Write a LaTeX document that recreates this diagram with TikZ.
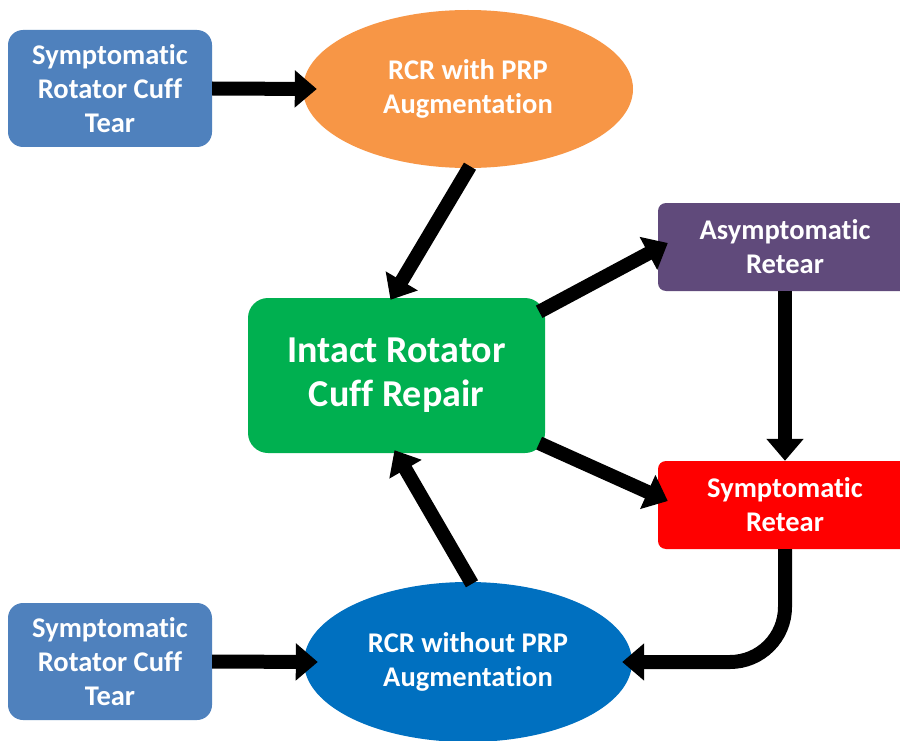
\documentclass[tikz,border=0pt]{standalone}
\usepackage{fontspec}
\setmainfont{Carlito}[Ligatures=NoCommon]
\usetikzlibrary{shapes.geometric,arrows.meta}
\definecolor{cBlueL}{HTML}{4F81BD}
\definecolor{cOrange}{HTML}{F79646}
\definecolor{cGreen}{HTML}{00B050}
\definecolor{cPurple}{HTML}{604A7B}
\definecolor{cRed}{HTML}{FF0000}
\definecolor{cBlue}{HTML}{0070C0}
\tikzset{
  box/.style={rectangle, rounded corners=15pt, inner sep=0pt, align=center, text=white,
    font=\fontsize{28.5}{34}\selectfont\bfseries},
  oval/.style={ellipse, inner sep=0pt, align=center, text=white,
    font=\fontsize{28.5}{34}\selectfont\bfseries},
  arr/.style={line width=14pt, -{Triangle[length=22pt,width=36pt]}}
}
\begin{document}
\begin{tikzpicture}[x=1pt,y=-1pt]
\useasboundingbox[fill=white] (0,0) rectangle (900,741);
\node[box, fill=cBlueL, minimum width=204pt, minimum height=117pt] (tl) at (110,88.5) {Symptomatic\\Rotator Cuff\\Tear};
\node[box, fill=cBlueL, minimum width=204pt, minimum height=117pt] (bl) at (110,661.5) {Symptomatic\\Rotator Cuff\\Tear};
\node[oval, fill=cOrange, minimum width=330pt, minimum height=158pt] (eo) at (468,89) {RCR with PRP\\Augmentation};
\node[oval, fill=cBlue, minimum width=328pt, minimum height=160pt] (eb) at (468,662) {RCR without PRP\\Augmentation};
\node[box, rounded corners=20pt, fill=cGreen, minimum width=297pt, minimum height=155pt,
  font=\fontsize{38}{44}\selectfont\bfseries] (green) at (396.5,375.5) {Intact Rotator\\Cuff Repair};
\node[box, rounded corners=8pt, fill=cPurple, minimum width=254pt, minimum height=88pt] (pur) at (785,247) {Asymptomatic\\Retear};
\node[box, rounded corners=8pt, fill=cRed, minimum width=254pt, minimum height=88pt] (red) at (785,505) {Symptomatic\\Retear};

\draw[arr] (tl.east) -- ([xshift=14pt]eo.west);
\draw[arr] (bl.east) -- ([xshift=14pt]eb.west);
\draw[arr] ([shift={(2,-2)}]eo.south) -- ([shift={(-6,2)}]green.north);
\draw[arr] ([shift={(4,2)}]eb.north) -- ([shift={(-2,-3)}]green.south);
\draw[arr] ([shift={(-6,14)}]green.north east) -- ([shift={(10,-4)}]pur.west);
\draw[arr] ([shift={(-6,-10)}]green.south east) -- ([shift={(10,-4)}]red.west);
\draw[arr] (pur.south) -- (red.north);
\draw[arr, rounded corners=55pt] (red.south) |- ([xshift=-10pt]eb.east);
\end{tikzpicture}
\end{document}
